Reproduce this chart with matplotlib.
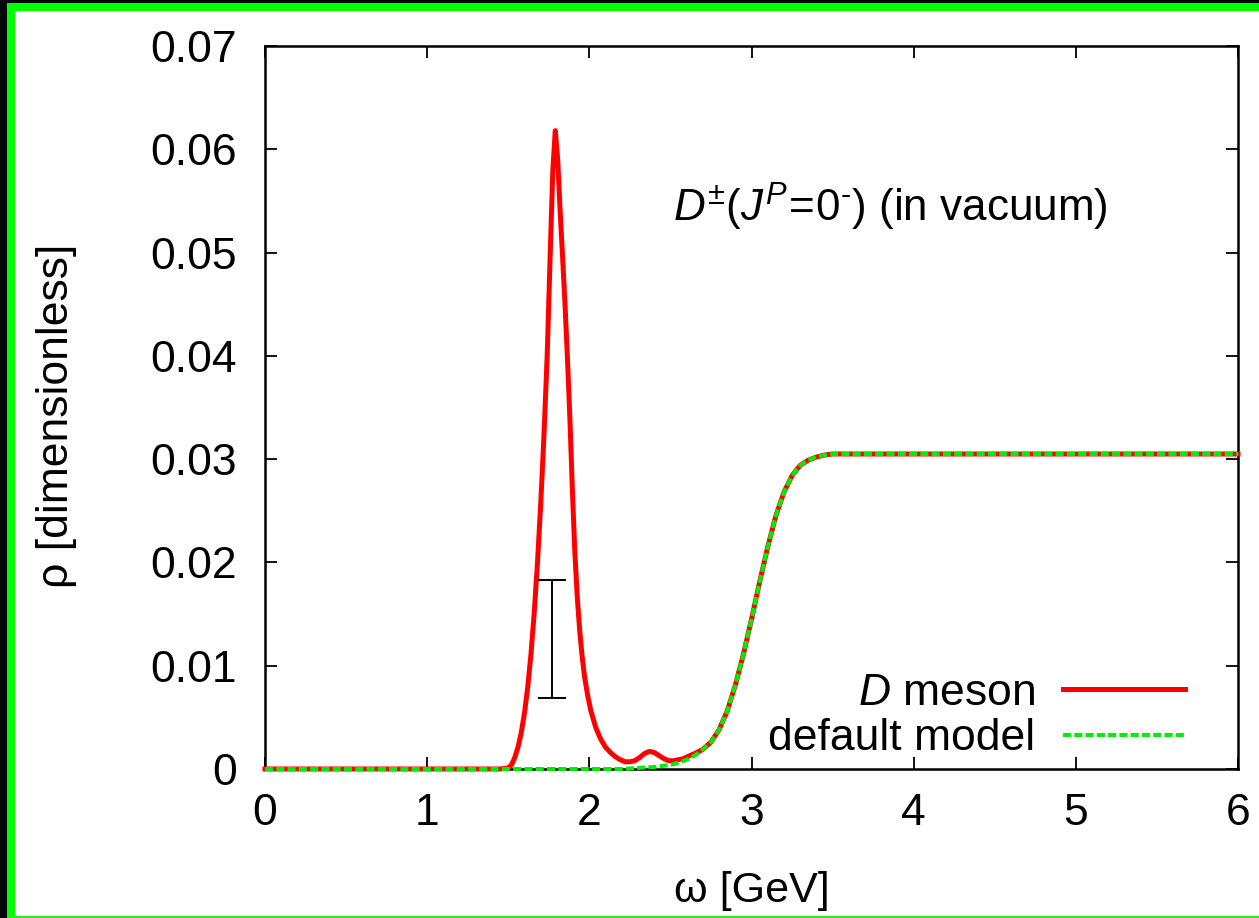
import matplotlib
matplotlib.use("Agg")
import matplotlib.pyplot as plt
from matplotlib.patches import Rectangle
from matplotlib.lines import Line2D

plt.rcParams['font.family'] = ['Liberation Sans', 'DejaVu Sans']
plt.rcParams['mathtext.fontset'] = 'custom'
plt.rcParams['mathtext.rm'] = 'Liberation Sans'
plt.rcParams['mathtext.it'] = 'Liberation Sans:italic'
plt.rcParams['mathtext.bf'] = 'Liberation Sans:bold'

# ---- data ----
omega_d = [0.0, 0.5, 1.0, 1.3, 1.45, 1.50, 1.52, 1.54, 1.56, 1.58, 1.60, 1.62, 1.64,
           1.66, 1.68, 1.70, 1.72, 1.74, 1.76, 1.775, 1.79, 1.805, 1.82, 1.835,
           1.85, 1.865, 1.88, 1.895, 1.91, 1.925, 1.94, 1.955, 1.97, 1.99, 2.01,
           2.04, 2.07, 2.10, 2.13, 2.16, 2.19, 2.22, 2.25, 2.28, 2.31, 2.34, 2.37,
           2.40, 2.43, 2.46, 2.49, 2.52, 2.55, 2.58, 2.62, 2.65, 2.70, 2.75, 2.80,
           2.85, 2.90, 2.95, 3.00, 3.05, 3.10, 3.15, 3.20, 3.25, 3.30, 3.35, 3.40,
           3.45, 3.50, 3.60, 3.70, 4.0, 5.0, 6.0]
rho_d = [0.0, 0.0, 0.0, 0.0, 0.0, 0.0001, 0.0004, 0.0011, 0.0021, 0.0035, 0.0054,
         0.0079, 0.0111, 0.0151, 0.0199, 0.0256, 0.0322, 0.0400, 0.0505, 0.0580,
         0.0618, 0.0590, 0.0540, 0.0496, 0.0450, 0.0398, 0.0340, 0.0272, 0.0212,
         0.0168, 0.0135, 0.0110, 0.0090, 0.0071, 0.0056, 0.0040, 0.0029, 0.0021,
         0.0016, 0.0012, 0.0009, 0.0007, 0.0007, 0.0008, 0.0011, 0.0015, 0.0017,
         0.0016, 0.0013, 0.0010, 0.0008, 0.0008, 0.0009, 0.0010, 0.0013, 0.0015,
         0.0019, 0.0026, 0.0038, 0.0056, 0.0081, 0.0111, 0.0145, 0.0181, 0.0215,
         0.0245, 0.0268, 0.0284, 0.0294, 0.0299, 0.0302, 0.0304, 0.0305, 0.0305,
         0.0305, 0.0305, 0.0305, 0.0305]

omega_m = [0.0, 1.0, 2.0, 2.2, 2.3, 2.4, 2.5, 2.55, 2.60, 2.65, 2.70, 2.75, 2.80,
           2.85, 2.90, 2.95, 3.00, 3.05, 3.10, 3.15, 3.20, 3.25, 3.30, 3.35, 3.40,
           3.45, 3.50, 3.60, 3.70, 4.0, 5.0, 6.0]
rho_m = [0.0, 0.0, 0.0, 0.0, 0.0001, 0.0002, 0.0004, 0.0006, 0.0009, 0.0013,
         0.0019, 0.0026, 0.0038, 0.0056, 0.0081, 0.0111, 0.0145, 0.0181, 0.0215,
         0.0245, 0.0268, 0.0284, 0.0294, 0.0299, 0.0302, 0.0304, 0.0305, 0.0305,
         0.0305, 0.0305, 0.0305, 0.0305]

err_x = [1.77]
err_low = [0.0069]
err_high = [0.0183]

xticks = [0, 1, 2, 3, 4, 5, 6]
yticks = [0, 0.01, 0.02, 0.03, 0.04, 0.05, 0.06, 0.07]
ytick_labels = ['0', '0.01', '0.02', '0.03', '0.04', '0.05', '0.06', '0.07']
legend_labels = ['$D$ meson', 'default model']
title_text = r'$D^{\pm}(J^{P}\!=\!0^{\text{-}})$ (in vacuum)'

# ---- figure ----
W, H = 1259, 918
fig = plt.figure(figsize=(W / 100, H / 100), dpi=100, facecolor='white')

# frame decoration (black outer, green border)
fig.patches.append(Rectangle((0, 0), 7 / W, 1, transform=fig.transFigure,
                             facecolor='#050708', edgecolor='none', zorder=0))
fig.patches.append(Rectangle((0, 1 - 3 / H), 1, 3 / H, transform=fig.transFigure,
                             facecolor='#050708', edgecolor='none', zorder=0))
fig.patches.append(Rectangle((7 / W, 0), 8 / W, 1 - 3 / H, transform=fig.transFigure,
                             facecolor='#00ff00', edgecolor='none', zorder=0))
fig.patches.append(Rectangle((7 / W, 1 - 11 / H), 1, 8 / H, transform=fig.transFigure,
                             facecolor='#00ff00', edgecolor='none', zorder=0))
fig.patches.append(Rectangle((7 / W, 0), 1, 2 / H, transform=fig.transFigure,
                             facecolor='#22ee22', edgecolor='none', zorder=0))

ax = fig.add_axes([265 / W, 1 - 769 / H, (1238 - 265) / W, (769 - 46) / H])
ax.set_xlim(0, 6)
ax.set_ylim(0, 0.07)

red = '#ff0000'
green = '#00ee00'
ax.plot(omega_d, rho_d, color=red, lw=3.6, zorder=3, clip_on=False,
        solid_joinstyle='round')
ax.plot(omega_m, rho_m, color=green, lw=2.9, ls=(0, (2.0, 0.8)), zorder=4,
        clip_on=False)

yc = [(a + b) / 2 for a, b in zip(err_low, err_high)]
ye = [(b - a) / 2 for a, b in zip(err_low, err_high)]
ax.errorbar(err_x, yc, yerr=ye, fmt='none', ecolor='black', elinewidth=1.4,
            capsize=10, capthick=1.4, zorder=5)

for s in ax.spines.values():
    s.set_linewidth(1.8)
ax.set_xticks(xticks)
ax.set_xticklabels([str(t) for t in xticks])
ax.set_yticks(yticks)
ax.set_yticklabels(ytick_labels)
ax.tick_params(direction='in', length=8.5, width=1.3, top=True, right=True,
               labelsize=32, pad=20)
ax.tick_params(axis='x', pad=17)

ax.set_xlabel('ω [GeV]', fontsize=31)
ax.xaxis.set_label_coords(0.5, (769 - 902) / (769 - 46))
ax.xaxis.label.set_va('baseline')
ax.set_ylabel('ρ [dimensionless]', fontsize=32)
ax.yaxis.set_label_coords((57 - 265) / (1238 - 265), (769 - 416) / 723)
ax.yaxis.label.set_va('center')

ax.text((673 - 265) / 973, (769 - 222) / 723, title_text, transform=ax.transAxes,
        ha='left', va='baseline', fontsize=31.7)

# gnuplot-style legend (text right-aligned, sample on the right)
lx_text = (1035 - 265) / 973
lx0, lx1 = (1063 - 265) / 973, (1185 - 265) / 973
ax.text(lx_text, (769 - 705) / 723, legend_labels[0], transform=ax.transAxes,
        ha='right', va='baseline', fontsize=32)
ax.text(lx_text, (769 - 750) / 723, legend_labels[1], transform=ax.transAxes,
        ha='right', va='baseline', fontsize=32)
ax.add_line(Line2D([lx0, lx1], [(769 - 689) / 723] * 2, transform=ax.transAxes,
                   color=red, lw=3.6))
ax.add_line(Line2D([lx0, lx1], [(769 - 735) / 723] * 2, transform=ax.transAxes,
                   color=green, lw=2.9, ls=(0, (2.0, 0.8))))

fig.savefig('out.png', dpi=100, facecolor='white')
